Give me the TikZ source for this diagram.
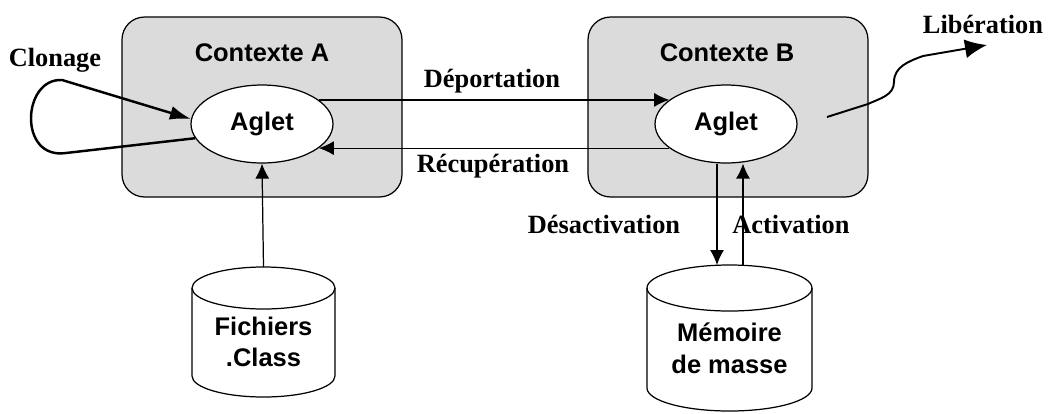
\documentclass[tikz,border=0pt]{standalone}
\usepackage{fontspec}
\setmainfont{Liberation Serif}
\setsansfont{Liberation Sans}
\usetikzlibrary{shapes.geometric,arrows.meta,calc}
\colorlet{context area}{gray!28}
\def\boxfont{\sffamily\bfseries\fontsize{14.5}{18}\selectfont}
\def\actionfont{\bfseries\fontsize{15}{17}\selectfont}
% cylindre : centre x, haut, bas, rayon x, rayon y
\newcommand{\drum}[5]{%
	\draw[fill=white] ({#1-#4},{#2+#5}) -- ({#1-#4},{#3-#5}) arc[start angle=180, end angle=0, x radius=#4, y radius=#5] -- ({#1+#4},{#2+#5});
	\draw ({#1},{#2+#5}) ellipse [x radius=#4, y radius=#5];}
\tikzset{context/.style={draw, fill=context area, rounded corners=0.45cm, minimum width=5.6cm, minimum height=3.6cm},
	aglet/.style={ellipse, draw, fill=white, minimum width=2.84cm, minimum height=1.56cm, font=\boxfont},
	storetext/.style={font=\boxfont, align=center},
	title/.style={font=\boxfont},
	action/.style={font=\actionfont},
	flow/.style={-{Latex[length=0.3cm,width=0.28cm]}},
	clone/.style={line width=1.4pt, -{Latex[length=0.42cm,width=0.28cm]}},
	release/.style={line width=1.1pt, -{Latex[length=0.44cm,width=0.38cm]}}}

\begin{document}
\begin{tikzpicture}[x=0.02cm, y=-0.02cm, line width=0.7pt]
		\useasboundingbox (0,0) rectangle (1052,413);
		% les deux contextes
		\node[context] (ctxA) at (262,107) {};
		\node[context] (ctxB) at (728,107) {};
		\node[title] (titA) at (262,53) {Contexte A};
		\node[title] (titB) at (727,53) {Contexte B};
		\node[aglet] (agA) at (262,124) {Aglet};
		\node[aglet] (agB) at (726,124) {Aglet};
		
		% les deux bases
		\drum{263.5}{267}{397}{71.5}{21}
		\drum{729.5}{265}{411}{82.5}{23}
		\coordinate (fich) at (263.5,267);
		\coordinate (mem) at (729.5,265);
		\node[storetext] (fichT) at (263.5,342) {Fichiers\\.Class};
		\node[storetext] (memT) at (729.5,348) {Mémoire\\de masse};
		
		\draw[flow] (agA.23) -- (agB.157);
		\draw[flow] (agB.203) -- (agA.337);
		\node[action] (dep) at (492,81) {Déportation};
		\node[action] (rec) at (493,166) {Récupération};
		\draw[flow] (fich) -- (agA.south);
		\coordinate (desT) at ($(agB.south)+(-9,0)$);
		\coordinate (actT) at ($(agB.south)+(17,0)$);
		\draw[flow] (desT) -- (desT |- mem);
		\draw[flow] (actT |- mem) -- (actT);
		\node[action] (des) at (604,224) {Désactivation};
		\node[action] (act) at (791,224) {Activation};
		
		% clonage et liberation
		\draw[clone] (agA.192) -- (66,153) .. controls (18,160) and (22,78) .. (62,80) -- (agA.176);
		\node[action] (clo) at (55,60) {Clonage};
		\coordinate (libS) at (827,117);
		\coordinate (libE) at (987,45);
		\draw[release] (libS) -- (868,104) to[out=25,in=-90] (894,82) to[out=90,in=200] (923,56) -- (libE);
		\node[action] (lib) at (983,24) {Libération};
		\end{tikzpicture}
\end{document}
